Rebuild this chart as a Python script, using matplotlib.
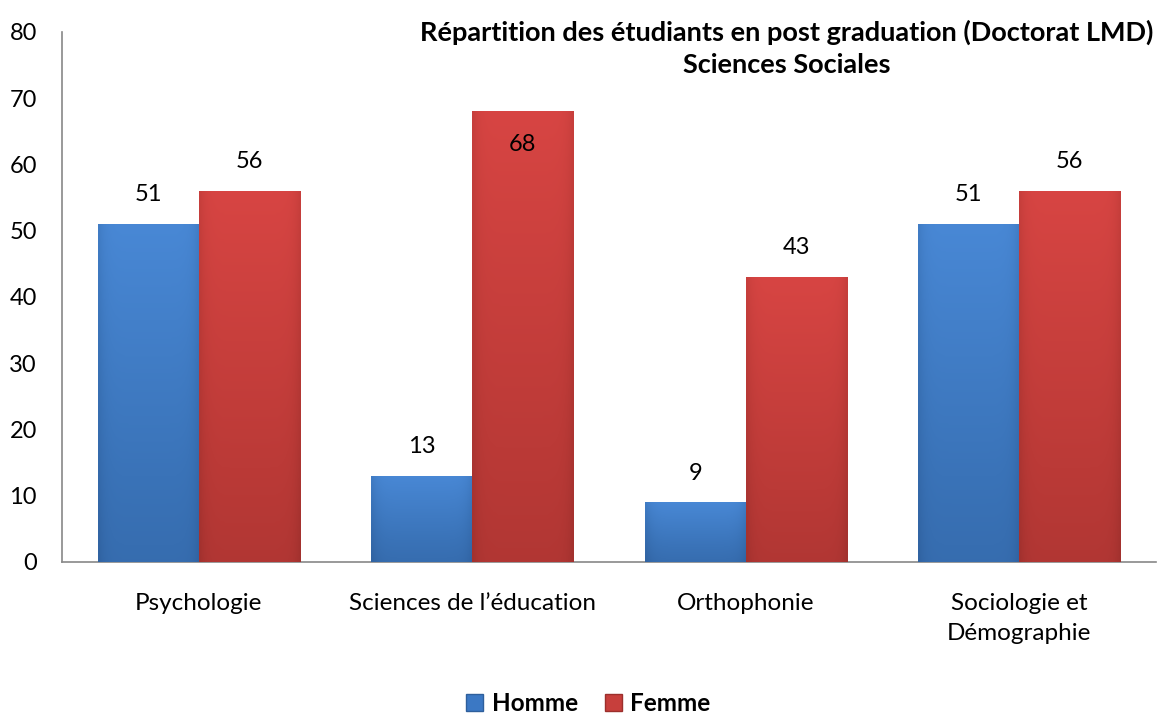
import numpy as np
import matplotlib
matplotlib.use("Agg")
import matplotlib.pyplot as plt
from matplotlib.colors import LinearSegmentedColormap
from matplotlib.patches import Patch

plt.rcParams['font.family'] = ['Lato', 'DejaVu Sans']

categories = ["Psychologie", "Sciences de l\u2019éducation", "Orthophonie", "Sociologie et\nDémographie"]
homme = [51, 13, 9, 51]
femme = [56, 68, 43, 56]
series_names = ["Homme", "Femme"]
title = "Répartition des étudiants en post graduation (Doctorat LMD)\nSciences Sociales"

fig = plt.figure(figsize=(11.65, 7.19), dpi=100)
ax = fig.add_axes([0.0532, 0.2184, 0.9391, 0.7371])

x = np.arange(len(categories))
w = 0.37

# bar shading: light top, darker bottom, darker edges
blue_cmap = LinearSegmentedColormap.from_list("b", ["#2e5f9c", "#3a73b8", "#4a8ad8"])
red_cmap = LinearSegmentedColormap.from_list("r", ["#9c2f2c", "#bb3a37", "#da4644"])


def shaded_bars(xs, vals, cmap, base):
    bars = ax.bar(xs, vals, w, color=base, edgecolor="none", zorder=2)
    yy = np.linspace(0, 1, 60)[:, None]
    xx = np.linspace(-1, 1, 40)[None, :]
    grad = 0.35 + 0.6 * yy - 0.25 * xx ** 8
    for b in bars:
        x0, y0 = b.get_x(), b.get_y()
        im = ax.imshow(grad, cmap=cmap, vmin=0, vmax=1, origin="lower", aspect="auto",
                       extent=[x0, x0 + b.get_width(), y0, y0 + b.get_height()],
                       zorder=3, interpolation="bilinear")
        im.set_clip_path(b)
    return bars


bh = shaded_bars(x - w / 2, homme, blue_cmap, "#3b78c4")
bf = shaded_bars(x + w / 2, femme, red_cmap, "#c73f3c")

for xs, vals in ((x - w / 2, homme), (x + w / 2, femme)):
    for xi, v in zip(xs, vals):
        if v >= 65:
            ax.text(xi, v - 5, str(v), ha="center", va="center", fontsize=17, zorder=5)
        else:
            ax.text(xi, v + 4.4, str(v), ha="center", va="center", fontsize=17, zorder=5)

ax.set_xlim(-0.5, len(categories) - 0.5)
ax.set_ylim(0, 80)
ax.set_yticks(range(0, 81, 10))
ax.set_xticks(x)
ax.set_xticklabels(categories, fontsize=17.5, linespacing=1.55)
ax.tick_params(axis="y", length=0, labelsize=17, pad=18)
ax.tick_params(axis="x", length=0, pad=22)
for s in ("top", "right"):
    ax.spines[s].set_visible(False)
for s in ("left", "bottom"):
    ax.spines[s].set_color("#888888")
    ax.spines[s].set_linewidth(1.2)

fig.text(0.6755, 0.933, title, ha="center", va="center", fontsize=19.5,
         fontweight="bold", linespacing=1.4)

handles = [Patch(facecolor="#3b78c4", edgecolor="#2e5f9c"),
           Patch(facecolor="#c73f3c", edgecolor="#9c2f2c")]
fig.legend(handles, series_names, loc="center", bbox_to_anchor=(0.505, 0.021), ncol=2,
           frameon=False, prop={"weight": "bold", "size": 17.5}, handlelength=0.7,
           handleheight=0.7, handletextpad=0.35, columnspacing=1.1)

fig.savefig("out.png", dpi=100)
